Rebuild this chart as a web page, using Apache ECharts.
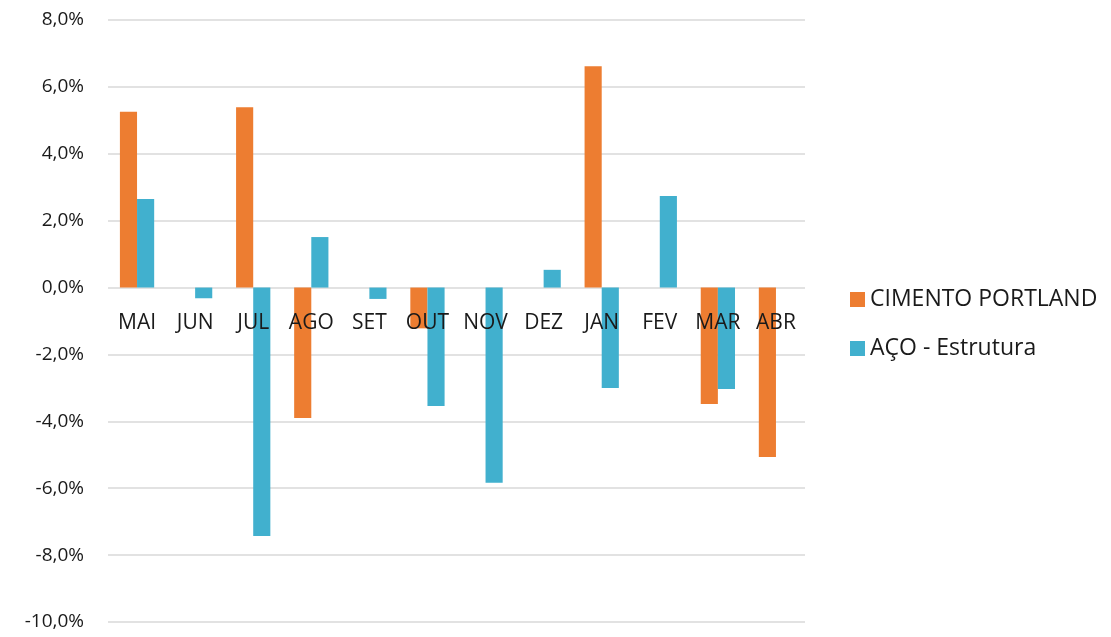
<!DOCTYPE html>
<html>
<head>
<meta charset="utf-8">
<script src="https://cdn.jsdelivr.net/npm/echarts@6/dist/echarts.min.js"></script>
<style>html,body{margin:0;padding:0;background:#fff;}#c{width:1111px;height:637px;}</style>
</head>
<body>
<div id="c"></div>
<script>
const categories = ['MAI','JUN','JUL','AGO','SET','OUT','NOV','DEZ','JAN','FEV','MAR','ABR'];
const cimento = [5.26, 0, 5.39, -3.9, 0, -1.22, 0, 0, 6.62, 0, -3.48, -5.07];
const aco = [2.65, -0.32, -7.43, 1.51, -0.34, -3.54, -5.84, 0.53, -3.0, 2.74, -3.03, 0];
const seriesNames = ['CIMENTO PORTLAND', 'AÇO - Estrutura'];
const yMin = -10, yMax = 8, yStep = 2;
const FONT = 'Open Sans';
const GRID_TOP = 20, GRID_BOTTOM = 15, H = 637;
const plotH = H - GRID_TOP - GRID_BOTTOM;
// distance from bottom of plot to the zero line
const zeroFromBottom = plotH * (0 - yMin) / (yMax - yMin);
const chart = echarts.init(document.getElementById('c'));
chart.setOption({
  animation: false,
  textStyle: {fontFamily: FONT},
  grid: {left: 108, right: 306, top: GRID_TOP, bottom: GRID_BOTTOM, containLabel: false, outerBoundsMode: 'none'},
  legend: {
    orient: 'vertical', left: 845, top: 283, itemWidth: 15, itemHeight: 15, itemGap: 26,
    icon: 'rect',
    textStyle: {fontFamily: FONT, fontSize: 23, color: '#1a1a1a', padding: [0,0,0,0]},
    data: seriesNames
  },
  xAxis: {
    type: 'category', data: categories,
    offset: -zeroFromBottom,
    z: 10,
    axisLine: {show: false, onZero: false},
    axisTick: {show: false},
    axisLabel: {fontFamily: FONT, fontSize: 21, color: '#1a1a1a', margin: 25, interval: 0}
  },
  yAxis: {
    type: 'value', min: yMin, max: yMax, interval: yStep,
    axisLine: {show: false}, axisTick: {show: false},
    splitLine: {lineStyle: {color: '#d9d9d9', width: 1.5}},
    axisLabel: {fontFamily: FONT, fontSize: 19, color: '#1a1a1a', margin: 24,
      formatter: v => v.toFixed(1).replace('.', ',') + '%'}
  },
  series: [
    {name: seriesNames[0], type: 'bar', data: cimento, barGap: '0%', barCategoryGap: '41%',
     itemStyle: {color: '#ED7D31'}},
    {name: seriesNames[1], type: 'bar', data: aco, barGap: '0%', barCategoryGap: '41%',
     itemStyle: {color: '#41B0CE'}}
  ]
});
</script>
</body>
</html>
